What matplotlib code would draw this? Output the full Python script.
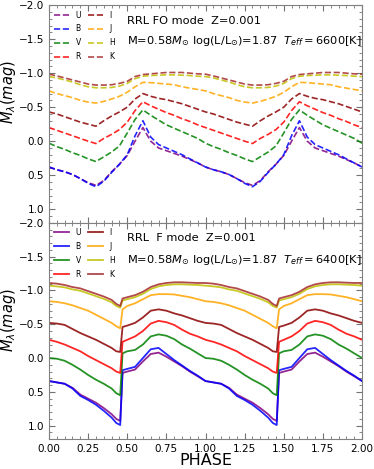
import numpy as np
import matplotlib
matplotlib.use("Agg")
import matplotlib.pyplot as plt
from matplotlib.ticker import AutoMinorLocator, MultipleLocator

bands = ["U", "B", "V", "R", "I", "J", "H", "K"]
colors = {"U": "purple", "B": "blue", "V": "green", "R": "red",
          "I": "darkred", "J": "orange", "H": "y", "K": "brown"}

# first overtone mode, one pulsation cycle
phase_fo = [0.0, 0.05, 0.1, 0.15, 0.2, 0.25, 0.3, 0.35, 0.4, 0.45, 0.5,
            0.55, 0.6, 0.65, 0.7, 0.75, 0.8, 0.85, 0.9, 0.95, 1.0]
fo_U = [0.38, 0.42, 0.45, 0.49, 0.55, 0.61, 0.65, 0.58, 0.45, 0.34, 0.21,
        0.0, -0.20, 0.0, 0.10, 0.14, 0.18, 0.22, 0.27, 0.32, 0.38]
fo_B = [0.38, 0.42, 0.45, 0.49, 0.55, 0.62, 0.67, 0.59, 0.46, 0.34, 0.20,
        -0.08, -0.30, -0.06, 0.05, 0.10, 0.15, 0.20, 0.26, 0.32, 0.38]
fo_V = [0.03, 0.08, 0.12, 0.17, 0.21, 0.26, 0.30, 0.23, 0.16, 0.07, -0.12,
        -0.32, -0.46, -0.38, -0.31, -0.24, -0.19, -0.14, -0.09, -0.04, 0.03]
fo_R = [-0.20, -0.16, -0.12, -0.08, -0.04, 0.0, 0.035, -0.04, -0.10, -0.17, -0.28,
        -0.45, -0.58, -0.52, -0.47, -0.42, -0.38, -0.33, -0.29, -0.24, -0.20]
fo_I = [-0.43, -0.40, -0.36, -0.32, -0.28, -0.25, -0.22, -0.30, -0.37, -0.43, -0.50,
        -0.62, -0.70, -0.66, -0.63, -0.61, -0.58, -0.55, -0.51, -0.47, -0.43]
fo_J = [-0.74, -0.70, -0.67, -0.64, -0.60, -0.575, -0.56, -0.585, -0.62, -0.66, -0.72,
        -0.80, -0.865, -0.86, -0.85, -0.84, -0.83, -0.80, -0.78, -0.76, -0.74]
fo_H = [-0.95, -0.93, -0.90, -0.87, -0.83, -0.80, -0.785, -0.785, -0.79, -0.81, -0.85,
        -0.92, -0.955, -0.965, -0.97, -0.975, -0.975, -0.97, -0.965, -0.955, -0.95]
fo_K = [-0.985, -0.96, -0.93, -0.90, -0.87, -0.84, -0.825, -0.825, -0.83, -0.85, -0.88,
        -0.95, -0.98, -0.99, -1.0, -1.01, -1.01, -1.01, -1.0, -0.99, -0.985]

# fundamental mode, one pulsation cycle
phase_f = [0.0, 0.05, 0.1, 0.15, 0.2, 0.25, 0.3, 0.35, 0.4, 0.43, 0.455, 0.47,
           0.5, 0.55, 0.6, 0.65, 0.7, 0.75, 0.8, 0.85, 0.9, 0.95, 1.0]
f_U = [0.34, 0.36, 0.38, 0.44, 0.54, 0.60, 0.66, 0.74, 0.83, 0.90, 0.93, 0.22,
       0.20, 0.17, 0.05, -0.06, -0.08, -0.02, 0.05, 0.12, 0.20, 0.27, 0.34]
f_B = [0.34, 0.36, 0.38, 0.45, 0.56, 0.62, 0.69, 0.78, 0.88, 0.96, 0.99, 0.18,
       0.16, 0.13, 0.0, -0.13, -0.15, -0.06, 0.03, 0.11, 0.19, 0.26, 0.34]
f_V = [0.0, 0.01, 0.04, 0.10, 0.17, 0.25, 0.32, 0.38, 0.45, 0.52, 0.55, -0.07,
       -0.10, -0.12, -0.20, -0.32, -0.35, -0.33, -0.28, -0.20, -0.14, -0.07, 0.0]
f_R = [-0.27, -0.24, -0.20, -0.15, -0.10, -0.03, 0.03, 0.09, 0.15, 0.20, 0.22, -0.24,
       -0.27, -0.32, -0.40, -0.51, -0.55, -0.53, -0.49, -0.42, -0.36, -0.32, -0.27]
f_I = [-0.52, -0.51, -0.49, -0.43, -0.37, -0.32, -0.27, -0.21, -0.15, -0.10, -0.09, -0.46,
       -0.48, -0.52, -0.60, -0.70, -0.72, -0.70, -0.66, -0.63, -0.59, -0.55, -0.52]
f_J = [-0.84, -0.83, -0.81, -0.78, -0.74, -0.70, -0.64, -0.58, -0.52, -0.47, -0.44, -0.72,
       -0.77, -0.81, -0.87, -0.93, -0.945, -0.945, -0.94, -0.92, -0.90, -0.87, -0.84]
f_H = [-1.07, -1.06, -1.045, -1.015, -0.995, -0.955, -0.915, -0.875, -0.825, -0.77, -0.745, -0.85,
       -0.87, -0.90, -0.95, -1.02, -1.06, -1.08, -1.09, -1.09, -1.085, -1.08, -1.07]
f_K = [-1.11, -1.10, -1.08, -1.05, -1.03, -0.99, -0.95, -0.91, -0.86, -0.80, -0.77, -0.88,
       -0.90, -0.93, -0.98, -1.05, -1.09, -1.11, -1.12, -1.12, -1.115, -1.11, -1.11]

fo_data = dict(zip(bands, [fo_U, fo_B, fo_V, fo_R, fo_I, fo_J, fo_H, fo_K]))
f_data = dict(zip(bands, [f_U, f_B, f_V, f_R, f_I, f_J, f_H, f_K]))


def two_cycles(ph, mag):
    ph = np.asarray(ph)
    mag = np.asarray(mag)
    return np.concatenate([ph, ph[1:] + 1.0]), np.concatenate([mag, mag[1:]])


def style_axes(ax, label_y):
    ax.set_xlim(0, 2)
    ax.set_ylim(1.2, -2.0)
    ax.xaxis.set_major_locator(MultipleLocator(0.25))
    ax.yaxis.set_major_locator(MultipleLocator(0.5))
    ax.xaxis.set_minor_locator(AutoMinorLocator())
    ax.yaxis.set_minor_locator(AutoMinorLocator())
    ax.tick_params(which="both", direction="in", top=True, right=True,
                   color="0.45", labelsize=7.5)
    ax.tick_params(which="major", length=4)
    ax.tick_params(which="minor", length=2)
    for sp in ax.spines.values():
        sp.set_color("0.5")
    ax.set_ylabel(r"$M_{\lambda}(mag)$", fontsize=10.5)
    ax.yaxis.set_label_coords(-0.1, label_y)


fig = plt.figure(figsize=(3.74, 4.69), dpi=100)
ax1 = fig.add_axes([0.131, 0.525, 0.837, 0.464])
ax2 = fig.add_axes([0.131, 0.0635, 0.837, 0.4615])

for b in bands:
    x, y = two_cycles(phase_fo, fo_data[b])
    ax1.plot(x, y, "--", color=colors[b], lw=1.2, alpha=0.85, label=b)
    x, y = two_cycles(phase_f, f_data[b])
    ax2.plot(x, y, "-", color=colors[b], lw=1.3, alpha=0.85, label=b)

for ax, ly in ((ax1, 0.6), (ax2, 0.55)):
    style_axes(ax, ly)
    ax.legend(loc="upper left", ncol=2, fontsize=5.5, frameon=False,
              handlelength=1.9, handletextpad=0.9, columnspacing=0.9,
              labelspacing=0.65, borderaxespad=0.3)

ax1.tick_params(labelbottom=False)
ax2.set_xlabel("PHASE", fontsize=11.5, labelpad=-1)

ax1.text(0.25, 0.926, "RRL FO mode  Z=0.001", transform=ax1.transAxes,
         fontsize=8.2, va="center")
ax1.text(0.25, 0.835, r"M=0.58$M_{\odot}$ log(L/L$_{\odot}$)=1.87  $T_{eff}=$6600[K]",
         transform=ax1.transAxes, fontsize=8.2, va="center")
ax2.text(0.25, 0.931, "RRL  F mode  Z=0.001", transform=ax2.transAxes,
         fontsize=8.2, va="center")
ax2.text(0.25, 0.829, r"M=0.58$M_{\odot}$ log(L/L$_{\odot}$)=1.87  $T_{eff}=$6400[K]",
         transform=ax2.transAxes, fontsize=8.2, va="center")

fig.savefig("out.png", dpi=100)
